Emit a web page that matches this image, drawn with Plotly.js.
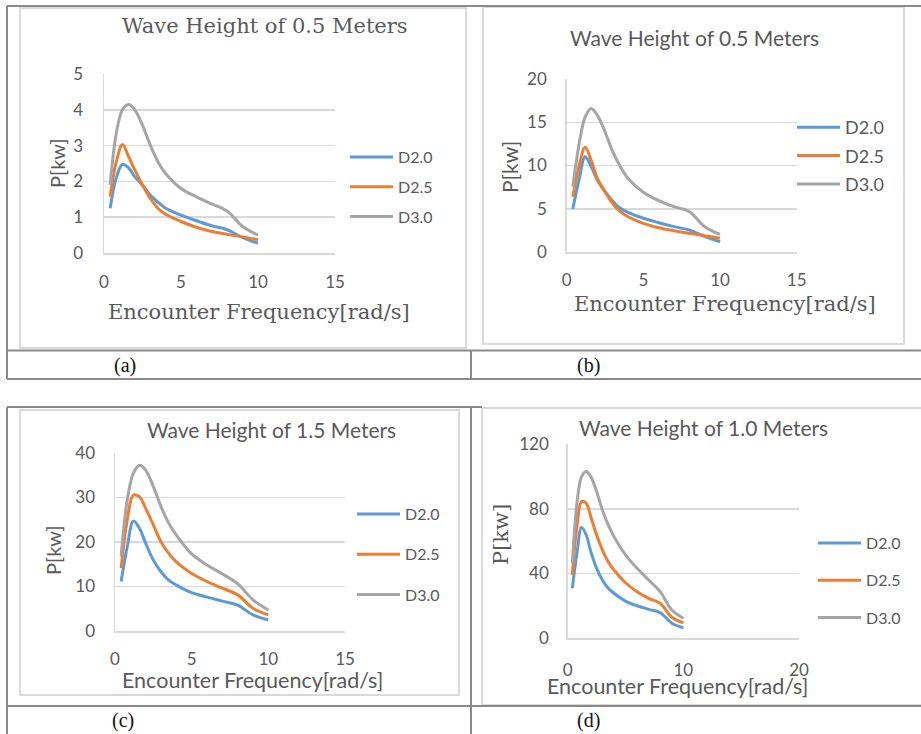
<!DOCTYPE html>
<html><head><meta charset="utf-8">
<script src="https://cdn.plot.ly/plotly-3.0.1.min.js"></script>
<style>html,body{margin:0;padding:0;background:#fff;} #chart{width:921px;height:734px;}</style>
</head><body><div id="chart"></div>
<script>
// ---------- data ----------
const freq = [0.4, 0.8, 1.2, 1.6, 2.0, 2.5, 3.0, 3.5, 4.0, 5.0, 6.0, 7.0, 8.0, 9.0, 10.0];
const seriesNames = ['D2.0', 'D2.5', 'D3.0'];

const a_D20 = [1.25, 2.10, 2.48, 2.38, 2.13, 1.90, 1.62, 1.42, 1.25, 1.06, 0.90, 0.76, 0.65, 0.43, 0.27];
const a_D25 = [1.57, 2.55, 3.03, 2.69, 2.32, 1.90, 1.53, 1.25, 1.08, 0.88, 0.72, 0.60, 0.52, 0.45, 0.37];
const a_D30 = [1.90, 3.35, 4.00, 4.15, 4.00, 3.57, 3.02, 2.55, 2.22, 1.80, 1.57, 1.37, 1.17, 0.74, 0.50];

const b_D20 = [4.97, 8.3, 11.0, 9.86, 8.3, 6.97, 5.9, 5.05, 4.59, 3.9, 3.39, 2.93, 2.54, 1.77, 1.19];
const b_D25 = [6.4, 9.9, 12.1, 10.6, 8.5, 6.97, 5.6, 4.66, 4.08, 3.31, 2.81, 2.46, 2.16, 1.88, 1.58];
const b_D30 = [7.55, 12.4, 15.6, 16.6, 15.8, 13.9, 11.6, 9.86, 8.5, 6.9, 5.93, 5.24, 4.66, 2.93, 2.05];

const c_D20 = [11.1, 18.9, 24.7, 23.0, 19.7, 15.9, 13.3, 11.4, 10.3, 8.6, 7.6, 6.7, 5.8, 3.6, 2.5];
const c_D25 = [14.1, 24.9, 30.5, 30.1, 27.5, 23.8, 20.0, 17.4, 15.5, 12.9, 11.1, 9.6, 8.1, 5.1, 3.6];
const c_D30 = [16.7, 29.4, 35.4, 37.2, 36.1, 32.4, 27.9, 24.2, 21.5, 17.3, 14.8, 12.8, 10.6, 7.0, 4.7];

const d_D20 = [30.9, 52.5, 68.5, 63.8, 53.5, 43.2, 36.0, 30.9, 27.8, 23.0, 20.1, 17.9, 15.8, 9.3, 6.5];
const d_D25 = [39.1, 69.0, 84.4, 83.4, 75.1, 63.8, 54.5, 47.3, 42.2, 34.3, 28.8, 24.7, 21.6, 13.0, 9.6];
const d_D30 = [46.3, 83.4, 99.8, 103.0, 99.8, 90.6, 79.2, 70.0, 62.8, 51.5, 43.2, 36.0, 28.8, 17.5, 12.4];

const panelTitles = ['Wave Height of 0.5 Meters', 'Wave Height of 0.5 Meters', 'Wave Height of 1.5 Meters', 'Wave Height of 1.0 Meters'];
const xTitle = 'Encounter Frequency[rad/s]';
const yTitle = 'P[kw]';
const captions = ['(a)', '(b)', '(c)', '(d)'];

// ---------- styling ----------
const W = 921, H = 734;
const px = v => v / W;
const py = v => 1 - v / H;
const SANS = 'Lato, "Open Sans", sans-serif';
const SERIF = '"DejaVu Serif", "Liberation Serif", serif';
const CAPSERIF = '"Liberation Serif", serif';
const TXT = '#595959';
const colors = ['#5B9BD5', '#ED7D31', '#A5A5A5'];
const panelData = [[a_D20, a_D25, a_D30], [b_D20, b_D25, b_D30], [c_D20, c_D25, c_D30], [d_D20, d_D25, d_D30]];

const traces = [];
panelData.forEach((set, p) => {
  const sfx = p === 0 ? '' : String(p + 1);
  set.forEach((vals, i) => {
    traces.push({
      type: 'scatter', mode: 'lines', x: freq, y: vals, name: seriesNames[i],
      xaxis: 'x' + sfx, yaxis: 'y' + sfx, legend: 'legend' + sfx,
      legendgroup: 'p' + p + 's' + i,
      line: {color: colors[i], width: 3, shape: 'spline', smoothing: 1}
    });
  });
});

// panel geometry (pixel boxes of the plot areas)
const boxes = [
  {x0: 104, x1: 335, y0: 74, y1: 253, xr: [0, 15], xd: 5, yr: [0, 5], yd: 1, xs: 13, ys: 16},
  {x0: 566.7, x1: 796.7, y0: 79, y1: 252, xr: [0, 15], xd: 5, yr: [0, 20], yd: 5, xs: 12, ys: 15},
  {x0: 115, x1: 345, y0: 452.7, y1: 631, xr: [0, 15], xd: 5, yr: [0, 40], yd: 10, xs: 12, ys: 15},
  {x0: 567.7, x1: 799, y0: 444, y1: 638.3, xr: [0, 20], xd: 10, yr: [0, 120], yd: 40, xs: 16, ys: 14}
];

const layout = {
  width: W, height: H, margin: {l: 0, r: 0, t: 0, b: 0},
  paper_bgcolor: '#fff', plot_bgcolor: 'rgba(0,0,0,0)',
  showlegend: true, annotations: [], shapes: []
};

boxes.forEach((b, p) => {
  const sfx = p === 0 ? '' : String(p + 1);
  layout['xaxis' + sfx] = {
    domain: [px(b.x0), px(b.x1)], range: b.xr, dtick: b.xd, tick0: 0,
    anchor: 'y' + sfx, showgrid: false, zeroline: false, showline: true,
    linecolor: '#D9D9D9', linewidth: 1.5, ticks: '', ticklabelstandoff: b.xs,
    tickfont: {family: SANS, size: 17, color: TXT}, fixedrange: true
  };
  layout['yaxis' + sfx] = {
    domain: [py(b.y1), py(b.y0)], range: b.yr, dtick: b.yd, tick0: 0,
    anchor: 'x' + sfx, showgrid: true, gridcolor: '#D9D9D9', gridwidth: 1.5,
    zeroline: false, showline: true, linecolor: '#D9D9D9', linewidth: 1.5,
    ticks: '', ticklabelstandoff: b.ys,
    tickfont: {family: SANS, size: 17, color: TXT}, fixedrange: true
  };
});

// legends
const legendCfg = [
  {x: 345, y: 140, size: 16, gap: 6},
  {x: 792, y: 109, size: 18, gap: 2},
  {x: 352, y: 497, size: 16, gap: 16.5},
  {x: 813, y: 526, size: 16, gap: 13.5}
];
legendCfg.forEach((l, p) => {
  const key = p === 0 ? 'legend' : 'legend' + (p + 1);
  layout[key] = {
    x: px(l.x), y: py(l.y), xanchor: 'left', yanchor: 'top',
    bgcolor: 'rgba(0,0,0,0)', borderwidth: 0, itemwidth: 43,
    traceorder: 'grouped', tracegroupgap: l.gap,
    font: {family: SANS, size: l.size, color: TXT}
  };
});

function ann(text, x, y, font, size, color, angle) {
  layout.annotations.push({
    text: text, xref: 'paper', yref: 'paper', x: px(x), y: py(y),
    xanchor: 'center', yanchor: 'middle', showarrow: false, textangle: angle || 0,
    font: {family: font, size: size, color: color || TXT}
  });
}
// chart titles
ann(panelTitles[0], 265, 26, SERIF, 21);
ann(panelTitles[1], 694, 38, SANS, 21);
ann(panelTitles[2], 271, 429, SANS, 21);
ann(panelTitles[3], 703, 427, SANS, 21);
// x-axis titles
ann(xTitle, 259, 312, SERIF, 21);
ann(xTitle, 725, 304, SERIF, 21);
ann(xTitle, 252, 680, SANS, 21.5);
ann(xTitle, 677, 686, SANS, 21.5);
// y-axis titles
ann(yTitle, 57, 163, SANS, 20, TXT, -90);
ann(yTitle, 510, 167, SANS, 21, TXT, -90);
ann(yTitle, 53, 550, SANS, 20, TXT, -90);
ann(yTitle, 501, 535, SERIF, 21, TXT, -90);
// captions
ann(captions[0], 125, 365, CAPSERIF, 20, '#111');
ann(captions[1], 588, 365, CAPSERIF, 20, '#111');
ann(captions[2], 123, 720, CAPSERIF, 20, '#111');
ann(captions[3], 588, 720, CAPSERIF, 20, '#111');

// frames and table rules
const DARK = '#8a8a8a', LIGHT = '#DADADA';
function seg(x0, y0, x1, y1, color, w) {
  layout.shapes.push({type: 'line', xref: 'paper', yref: 'paper', x0: px(x0), y0: py(y0), x1: px(x1), y1: py(y1), line: {color: color, width: w}, layer: 'below'});
}
function rect(x0, y0, x1, y1) {
  layout.shapes.push({type: 'rect', xref: 'paper', yref: 'paper', x0: px(x0), y0: py(y0), x1: px(x1), y1: py(y1), line: {color: LIGHT, width: 2}, fillcolor: 'rgba(0,0,0,0)', layer: 'below'});
}
rect(20, 8, 466, 348);
rect(483, 7, 904, 344);
rect(20, 410, 459, 695);
rect(482, 408, 925, 705);
seg(7, 6, 921, 6, DARK, 2);
seg(7, 6, 7, 379, DARK, 2);
seg(7, 350.5, 921, 350.5, DARK, 2);
seg(7, 379, 921, 379, DARK, 2);
seg(471, 350.5, 471, 379, DARK, 2);
seg(7, 407, 482, 407, DARK, 2);
seg(7, 407, 7, 734, DARK, 2);
seg(471, 407, 471, 734, DARK, 2);
seg(7, 706, 921, 706, DARK, 2);

Plotly.newPlot('chart', traces, layout, {displayModeBar: false, staticPlot: true});
</script>
</body></html>
